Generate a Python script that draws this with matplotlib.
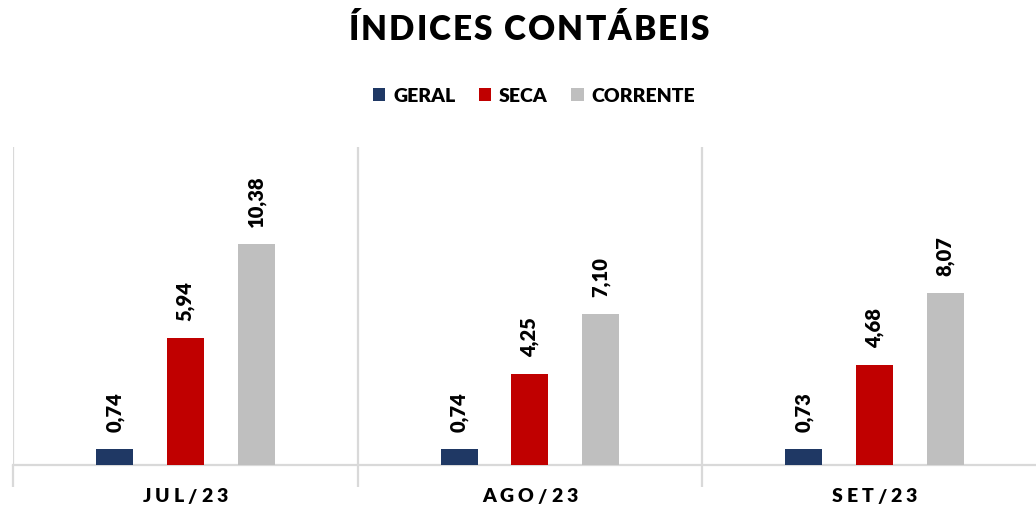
import numpy as np
import matplotlib
matplotlib.use("Agg")
from matplotlib import pyplot as plt
from matplotlib.font_manager import FontProperties
from matplotlib.patches import Patch

months = ["JUL/23", "AGO/23", "SET/23"]
series = ["GERAL", "SECA", "CORRENTE"]
geral = [0.74, 0.74, 0.73]
seca = [5.94, 4.25, 4.68]
corrente = [10.38, 7.10, 8.07]
colors = ["#1F3864", "#C00000", "#BFBFBF"]

FONT = "Lato"
WEIGHT = "heavy"
W, H = 1036, 507


def spaced_text(fig, xpx, ypx, s, spacing, size):
    # draw string char by char so it gets letter spacing (pixels)
    fp = FontProperties(family=FONT, weight=WEIGHT, size=size)
    r = fig.canvas.get_renderer()
    widths = [r.get_text_width_height_descent(c, fp, ismath=False)[0] for c in s]
    total = sum(widths) + spacing * (len(s) - 1)
    x = xpx - total / 2
    for c, w in zip(s, widths):
        fig.text(x / W, ypx / H, c, fontproperties=fp, ha="left", va="center")
        x += w + spacing


fig = plt.figure(figsize=(W / 100, H / 100), dpi=100)
left, right = 13 / W, 1046.5 / W
bottom, top = (H - 465) / H, (H - 147) / H
ax = fig.add_axes([left, bottom, right - left, top - bottom])

x = np.arange(len(months))
bw = 0.107
offsets = [-0.205, 0, 0.206]
for vals, off, col in zip([geral, seca, corrente], offsets, colors):
    ax.bar(x + off, vals, width=bw, color=col, zorder=3)
    for xi, v in zip(x, vals):
        ax.annotate(f"{v:.2f}".replace(".", ","), (xi + off, v), xytext=(0, 12.3),
                    textcoords="offset points", rotation=90, ha="center", va="bottom",
                    fontsize=14.5, fontweight=WEIGHT, family=FONT)

ax.set_xlim(-0.5, 2.5)
ax.set_ylim(0, 14.93)
for sp in ["top", "right", "left"]:
    ax.spines[sp].set_visible(False)
ax.spines["bottom"].set_color("#D9D9D9")
ax.spines["bottom"].set_linewidth(1.6)
ax.set_yticks([])
ax.set_xticks([-0.5, 0.5, 1.5, 2.5])
ax.set_xticklabels([])
ax.tick_params(axis="x", length=16, width=1.6, color="#D9D9D9")
ax.grid(axis="x", color="#D9D9D9", linewidth=1.6)
ax.set_axisbelow(True)

handles = [Patch(facecolor=c, label=s) for c, s in zip(colors, series)]
fig.legend(handles=handles, loc="center", bbox_to_anchor=(534 / W, (H - 96) / H), ncol=3,
           frameon=False, prop=FontProperties(family=FONT, weight=WEIGHT, size=14),
           handlelength=0.65, handleheight=0.65, handletextpad=0.4, columnspacing=1.2)

spaced_text(fig, 529, H - 30, "ÍNDICES CONTÁBEIS", 2, 24)
for xi, m in zip(x, months):
    px = ax.transData.transform((xi, 0))[0]
    spaced_text(fig, px, H - 497, m, 4, 14)

fig.savefig("out.png", dpi=100)
